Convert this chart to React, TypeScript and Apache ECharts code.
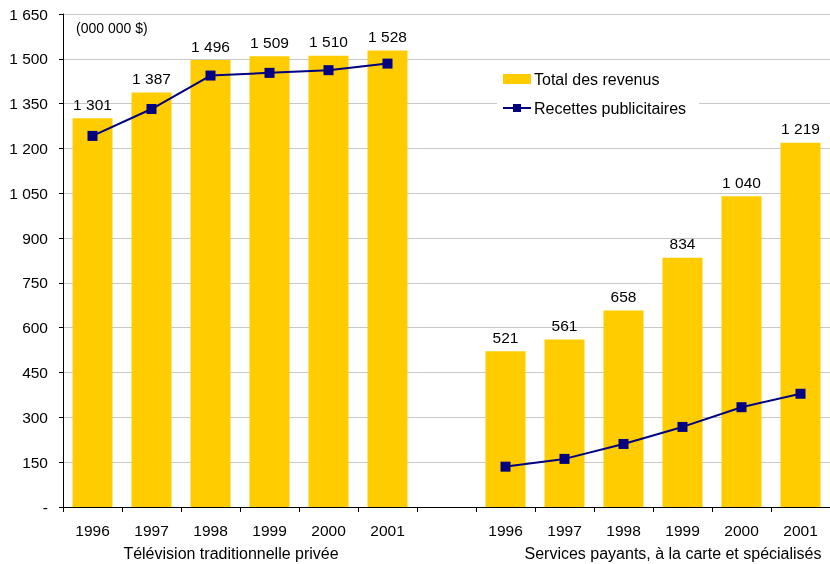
import React, { useEffect, useRef } from "react";
import * as echarts from "echarts";

const categories = ["1996", "1997", "1998", "1999", "2000", "2001", "", "1996", "1997", "1998", "1999", "2000", "2001"];
const totalRevenue = [1301, 1387, 1496, 1509, 1510, 1528, null, 521, 561, 658, 834, 1040, 1219];
const adRevenue = [1242, 1332, 1444, 1453, 1462, 1484, null, 135, 161, 211, 268, 334, 379];
const yTicks = { min: 0, max: 1650, interval: 150 };
const groupLabels = ["Télévision traditionnelle privée", "Services payants, à la carte et spécialisés"];
const unitLabel = "(000 000 $)";

const fmt = (v: number) => (v === 0 ? "-" : String(v).replace(/\B(?=(\d{3})+(?!\d))/g, " "));

export default function App() {
  const ref = useRef<HTMLDivElement>(null);
  useEffect(() => {
    if (!ref.current) return;
    const chart = echarts.init(ref.current, undefined, { renderer: "svg" });
    const font = "'Liberation Sans', Arial, sans-serif";
    chart.setOption({
      animation: false,
      textStyle: { fontFamily: font, color: "#000" },
      grid: { left: 63, top: 14, width: 770, height: 493 },
      legend: {
        orient: "vertical",
        left: 497,
        top: 66,
        itemWidth: 28,
        itemHeight: 10,
        itemGap: 13,
        backgroundColor: "#fff",
        padding: [5, 13, 5, 5],
        textStyle: { fontSize: 16, color: "#000", fontFamily: font, padding: [0, 0, 0, -2] },
        data: [
          { name: "Total des revenus", icon: "rect" },
          { name: "Recettes publicitaires" },
        ],
      },
      xAxis: {
        type: "category",
        data: categories,
        axisLine: { lineStyle: { color: "#000", width: 1 } },
        axisTick: { show: true, length: 5, lineStyle: { color: "#000" }, alignWithLabel: false },
        axisLabel: { fontSize: 15.5, color: "#000", margin: 15, fontFamily: font },
      },
      yAxis: {
        type: "value",
        min: yTicks.min,
        max: yTicks.max,
        interval: yTicks.interval,
        axisLine: { show: true, lineStyle: { color: "#000", width: 1 } },
        axisTick: { show: true, length: 4, lineStyle: { color: "#000" } },
        axisLabel: { fontSize: 15.5, color: "#000", margin: 15, formatter: fmt, fontFamily: font },
        splitLine: { lineStyle: { color: "#c8c8c8", width: 1 } },
      },
      graphic: [
        { type: "text", left: 76, top: 21, style: { text: unitLabel, fontSize: 14, fill: "#000", fontFamily: font } },
        { type: "text", x: 231, y: 545, style: { text: groupLabels[0], fontSize: 16, fill: "#000", fontFamily: font, textAlign: "center" } },
        { type: "text", x: 673, y: 545, style: { text: groupLabels[1], fontSize: 16, fill: "#000", fontFamily: font, textAlign: "center" } },
      ],
      series: [
        {
          name: "Total des revenus",
          type: "bar",
          data: totalRevenue,
          barWidth: 40,
          itemStyle: { color: "#FFCC00" },
          label: {
            show: true,
            position: "top",
            distance: 6,
            fontSize: 15.5,
            color: "#000",
            fontFamily: font,
            formatter: (p: any) => fmt(p.value),
          },
        },
        {
          name: "Recettes publicitaires",
          type: "line",
          data: adRevenue,
          connectNulls: false,
          symbol: "rect",
          symbolSize: 10,
          lineStyle: { color: "#000080", width: 2 },
          itemStyle: { color: "#000080" },
        },
      ],
    });
    return () => chart.dispose();
  }, []);
  return <div ref={ref} style={{ position: "fixed", left: 0, top: 0, width: 830, height: 564 }} />;
}
